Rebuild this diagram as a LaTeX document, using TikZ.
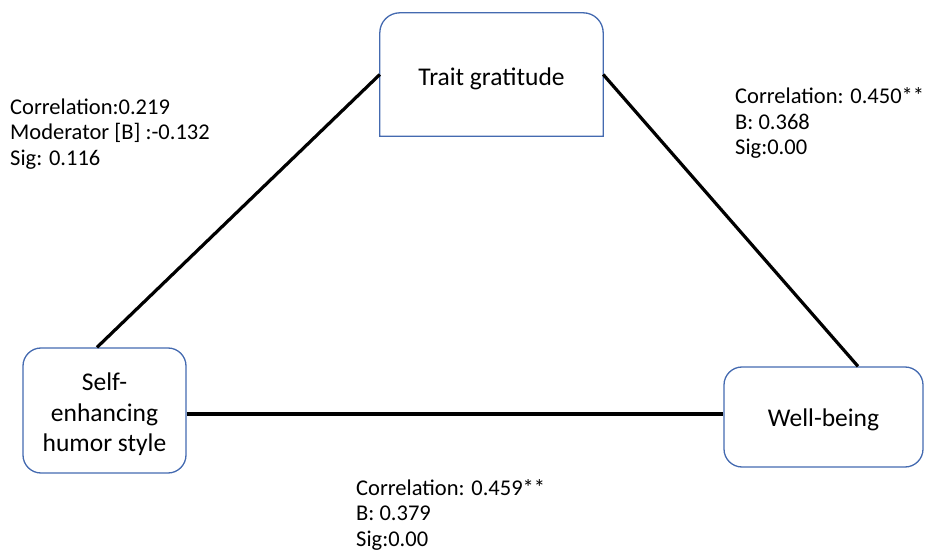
\documentclass[tikz,border=0pt]{standalone}
\usepackage{fontspec}
\setmainfont{Carlito}
\definecolor{boxblue}{RGB}{68,106,176}
\begin{document}
\begin{tikzpicture}[x=1pt,y=1pt,
  boxtext/.style={inner sep=0pt, align=center, yshift=-4pt,
    font=\fontsize{25.5}{30.5}\selectfont},
  boxnode/.style={rectangle, inner sep=0pt},
  roundbox/.style={boxnode, draw=boxblue, line width=1.3pt, rounded corners=18pt},
  link/.style={draw=black, line width=3.2pt},
  annot/.style={inner sep=0pt, align=left, anchor=west,
    font=\fontsize{22.5}{25.5}\selectfont}]
\useasboundingbox (0,0) rectangle (927,552);
% nodes
\node[boxnode, minimum width=223pt, minimum height=123pt,
  label={[boxtext]center:Trait gratitude}] (tg) at (491.5,477.5) {};
\draw[boxblue, line width=1.3pt]
  (tg.south west) -- ([yshift=-20pt]tg.north west)
  arc[start angle=180, end angle=90, radius=20pt]
  -- ([xshift=-20pt]tg.north east)
  arc[start angle=90, end angle=0, radius=20pt]
  -- (tg.south east) -- cycle;
\node[roundbox, minimum width=163pt, minimum height=125pt,
  label={[boxtext]center:{Self-\\enhancing\\humor style}}] (se) at (104.5,141.5) {};
\node[roundbox, minimum width=199pt, minimum height=100pt,
  label={[boxtext, yshift=1pt]center:Well-being}] (wb) at (823.5,135) {};
% connectors
\draw[link] (tg.west) -- ([xshift=-7.5pt]se.north);
\draw[link] (tg.east) -- ([xshift=34.5pt]wb.north);
\draw[link] ([yshift=-3.5pt]se.east) -- ([yshift=-3.5pt]se.east -| wb.west);
% annotations
\node[annot] (la) at (10,418) {Correlation:0.219\\Moderator [B] :-0.132\\Sig: 0.116};
\node[annot] (ra) at (735,429) {Correlation: 0.450**\\B: 0.368\\Sig:0.00};
\node[annot] (ba) at (356,37.5) {Correlation: 0.459**\\B: 0.379\\Sig:0.00};
\end{tikzpicture}
\end{document}
